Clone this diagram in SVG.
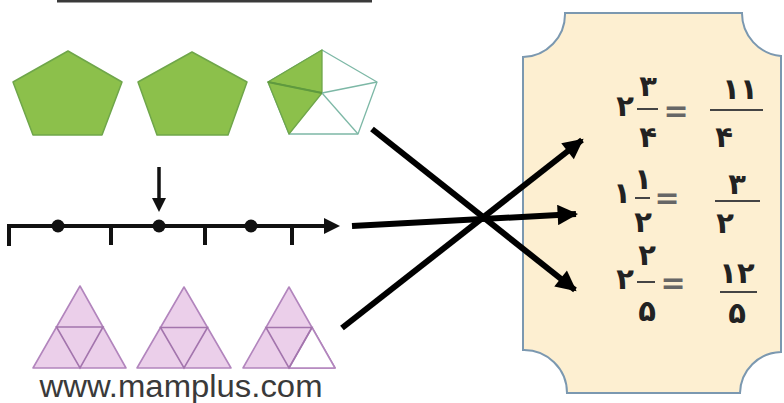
<svg xmlns="http://www.w3.org/2000/svg" width="784" height="403" viewBox="0 0 784 403">
<defs>
<style>
.pent{fill:#8cc04b;stroke:#6fa64a;stroke-width:1.5;stroke-linejoin:round}
.pw{fill:#ffffff;stroke:#7db8a6;stroke-width:1.3;stroke-linejoin:round}
.ps{fill:#8cc04b;stroke:#6fa64a;stroke-width:1.3;stroke-linejoin:round}
.tri{fill:#ebcfea;stroke:#b285bd;stroke-width:1.6;stroke-linejoin:round}
.tin{fill:none;stroke:#a375ad;stroke-width:1.6}
.nl{stroke:#111;stroke-width:4;fill:none}
.con{stroke:#000;stroke-width:6;fill:none}
.d{font-family:"DejaVu Sans",sans-serif;font-weight:bold;font-size:29px;fill:#222;text-anchor:middle}
.eq{font-family:"DejaVu Sans",sans-serif;font-weight:bold;font-size:30px;fill:#666;text-anchor:middle}
.bar{stroke:#444;stroke-width:2}
</style>
<marker id="ah" viewBox="0 0 10 10" refX="9" refY="5" markerWidth="4" markerHeight="3.4" orient="auto" markerUnits="strokeWidth">
<path d="M0,0 L10,5 L0,10 z" fill="#000"/>
</marker>
</defs>
<rect x="0" y="0" width="784" height="403" fill="#ffffff"/>
<rect x="57" y="0" width="315" height="2.5" fill="#3a3a3a"/>

<g id="pentagon1"><polygon class="pent" points="68,51 122,82 102,135 33,135 13,82"/></g>
<g id="pentagon2"><polygon class="pent" points="192,52 247,82 228,135 157,135 138,82"/></g>
<g id="pentagon3">
<polygon class="pw" points="322,50 377,82 358,134 289,134 268,82"/>
<polygon class="ps" points="322,50 268,82 322,93"/>
<polygon class="ps" points="268,82 289,134 322,93"/>
<line x1="322" y1="93" x2="377" y2="82" stroke="#7db8a6" stroke-width="1.3"/>
<line x1="322" y1="93" x2="358" y2="134" stroke="#7db8a6" stroke-width="1.3"/>
<line x1="268" y1="82" x2="322" y2="93" stroke="#5f9a3e" stroke-width="1.8"/>
</g>

<g id="numberline">
<path class="nl" d="M9,246 V226 H326"/>
<path d="M340,226 L324,218 L324,234 z" fill="#111"/>
<line class="nl" x1="111" y1="226" x2="111" y2="245"/>
<line class="nl" x1="205" y1="226" x2="205" y2="245"/>
<line class="nl" x1="292" y1="226" x2="292" y2="245"/>
<circle cx="58" cy="226" r="6.5" fill="#111"/>
<circle cx="159" cy="226" r="6.5" fill="#111"/>
<circle cx="251" cy="226" r="6.5" fill="#111"/>
<line x1="159" y1="167" x2="159" y2="200" stroke="#111" stroke-width="3.5"/>
<path d="M159,212 L152,198 L166,198 z" fill="#111"/>
</g>

<g id="triangle1">
<polygon class="tri" points="80,286 126,368 33,368"/>
<polygon class="tin" points="56.5,327 103,327 80,368"/>
</g>
<g id="triangle2">
<polygon class="tri" points="184,287 231,368 137,368"/>
<polygon class="tin" points="160.5,327.5 207.5,327.5 184,368"/>
</g>
<g id="triangle3">
<polygon class="tri" points="289,287 335,368 243,368"/>
<polygon points="312,327.5 335,368 289,368" fill="#ffffff" stroke="#b285bd" stroke-width="1.6" stroke-linejoin="round"/>
<polygon class="tin" points="266,327.5 312,327.5 289,368"/>
</g>

<text x="181" y="397" font-family="Liberation Sans, Arial, sans-serif" font-size="31" fill="#3a3a3a" text-anchor="middle" textLength="283" lengthAdjust="spacingAndGlyphs">www.mamplus.com</text>

<g id="card">
<path d="M565,13 H742 A43,43 0 0 0 781,56 V352 A42,42 0 0 0 740,393 H567 A43,43 0 0 0 523,350 V57 A43,43 0 0 0 565,13 Z" fill="#fdefd1" stroke="#7b98b0" stroke-width="2"/>
</g>

<g id="eq1">
<text class="d" x="625" y="116">۲</text>
<text class="d" x="648" y="96">۳</text>
<line class="bar" x1="637" y1="109" x2="658" y2="109"/>
<text class="d" x="648" y="147">۴</text>
<text class="eq" x="676" y="121">=</text>
<text class="d" x="740" y="99">۱۱</text>
<line class="bar" x1="710" y1="110" x2="763" y2="110"/>
<text class="d" x="724" y="147">۴</text>
</g>
<g id="eq2">
<text class="d" x="622" y="203">۱</text>
<text class="d" x="643" y="189">۱</text>
<line class="bar" x1="635" y1="198" x2="650" y2="198"/>
<text class="d" x="643" y="232">۲</text>
<text class="eq" x="667" y="208">=</text>
<text class="d" x="737" y="194">۳</text>
<line class="bar" x1="715" y1="201" x2="760" y2="201"/>
<text class="d" x="725" y="233">۲</text>
</g>
<g id="eq3">
<text class="d" x="625" y="289">۲</text>
<text class="d" x="647" y="265">۲</text>
<line class="bar" x1="637" y1="282" x2="655" y2="282"/>
<text class="d" x="647" y="321">۵</text>
<text class="eq" x="673" y="293">=</text>
<text class="d" x="737" y="283">۱۲</text>
<line class="bar" x1="720" y1="292" x2="757" y2="292"/>
<text class="d" x="737" y="323">۵</text>
</g>

<g id="connectors">
<line class="con" x1="372" y1="129" x2="575" y2="290" marker-end="url(#ah)"/>
<line class="con" x1="352" y1="226" x2="576" y2="214" marker-end="url(#ah)"/>
<line class="con" x1="342" y1="328" x2="582" y2="140" marker-end="url(#ah)"/>
</g>
</svg>
